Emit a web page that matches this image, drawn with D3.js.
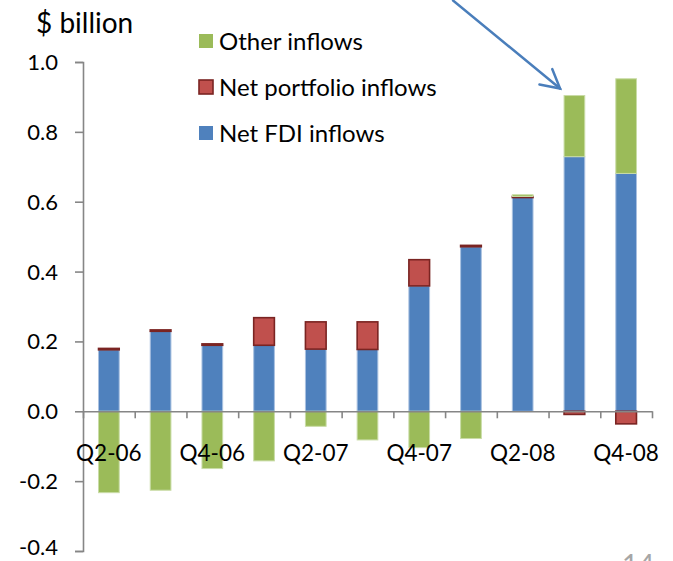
<!DOCTYPE html>
<html>
<head>
<meta charset="utf-8">
<title>Capital inflows</title>
<script src="https://d3js.org/d3.v7.min.js"></script>
<style>
html, body {
	margin: 0;
	padding: 0;
	background: #fff;
}
svg text {
	font-family: Lato, "Open Sans", sans-serif;
	fill: #000;
}
</style>
</head>
<body>
<div id="chart"></div>
<script>
	// data, $ billion
	var quarters = ["Q2-06", "Q3-06", "Q4-06", "Q1-07", "Q2-07", "Q3-07", "Q4-07", "Q1-08", "Q2-08", "Q3-08", "Q4-08"];
	var fdi       = [0.176, 0.229, 0.189, 0.189, 0.178, 0.177, 0.359, 0.471, 0.612, 0.729, 0.681];
	var portfolio = [0.004, 0.004, 0.004, 0.079, 0.078, 0.079, 0.075, 0.004, 0.003, -0.009, -0.036];
	var other     = [-0.233, -0.226, -0.164, -0.142, -0.043, -0.082, -0.104, -0.078, 0.005, 0.175, 0.271];
	var yTicks = [-0.4, -0.2, 0, 0.2, 0.4, 0.6, 0.8, 1.0];
	var xLabels = ["Q2-06", "Q4-06", "Q2-07", "Q4-07", "Q2-08", "Q4-08"];
	var seriesNames = ["Net FDI inflows", "Net portfolio inflows", "Other inflows"];
	var legendOrder = ["Other inflows", "Net portfolio inflows", "Net FDI inflows"];

	var width = 673, height = 561;
	var colors = {"Net FDI inflows": "#4f81bd", "Net portfolio inflows": "#c0504d", "Other inflows": "#9bbb59"};
	var strokes = {"Net FDI inflows": "#a9c1e0", "Net portfolio inflows": "#7a2422", "Other inflows": "#c9dca6"};

	var table = quarters.map((q, i) => ({
		q: q,
		"Net FDI inflows": fdi[i],
		"Net portfolio inflows": portfolio[i],
		"Other inflows": other[i]
	}));

	var stack = d3.stack().keys(seriesNames).offset(d3.stackOffsetDiverging);
	var layers = stack(table);

	var x = d3.scaleBand().domain(quarters).range([83, 652]).paddingInner(0.6).paddingOuter(0.3);
	var y = d3.scaleLinear().domain([-0.4, 1.0]).range([551, 62]);
	var xEdge = d3.scaleLinear().domain([0, quarters.length]).range([83, 652]);

	var svg = d3.select("#chart").append("svg")
		.attr("width", width)
		.attr("height", height);

	// bars
	svg.append("g")
	  .selectAll("g")
	  .data(layers)
	  .join("g")
		.attr("fill", d => colors[d.key])
		.attr("stroke", d => strokes[d.key])
		.attr("stroke-width", d => d.key == "Net portfolio inflows" ? 1.6 : 1)
	  .selectAll("rect")
	  .data(d => d)
	  .join("rect")
		.attr("x", d => x(d.data.q))
		.attr("width", x.bandwidth())
		.attr("y", d => y(Math.max(d[0], d[1])))
		.attr("height", d => Math.abs(y(d[0]) - y(d[1])));

	// y axis
	var yAxis = svg.append("g")
		.attr("transform", "translate(83,0)")
		.call(d3.axisLeft(y).tickValues(yTicks).tickFormat(d => d.toFixed(1)).tickSize(8).tickPadding(17));
	// lowest label sits on the window edge, lift it a touch so it is not clipped
	yAxis.selectAll("text")
		.attr("font-size", 22)
		.attr("dy", d => d == yTicks[0] ? "0.18em" : "0.34em");

	// x axis at zero
	var xAxis = svg.append("g")
		.attr("transform", `translate(0,${y(0)})`)
		.call(d3.axisBottom(xEdge).tickValues(d3.range(quarters.length + 1)).tickFormat("").tickSize(7).tickSizeOuter(0));

	svg.selectAll(".domain, .tick line")
		.attr("stroke", "#868686")
		.attr("stroke-width", 1.6);

	svg.append("g")
	  .selectAll("text")
	  .data(xLabels)
	  .join("text")
		.attr("x", d => x(d) + x.bandwidth() / 2)
		.attr("y", y(0) + 50)
		.attr("text-anchor", "middle")
		.attr("font-size", 22.5)
		.text(d => d);

	// unit label
	svg.append("text")
		.attr("x", 36)
		.attr("y", 33)
		.attr("font-size", 28)
		.text("$ billion");

	// legend
	var legend = svg.append("g")
	  .selectAll("g")
	  .data(legendOrder)
	  .join("g")
		.attr("transform", (d, i) => `translate(199,${41 + i * 46})`);
	legend.append("rect")
		.attr("x", 0)
		.attr("y", -7)
		.attr("width", 14)
		.attr("height", 14)
		.attr("fill", d => colors[d])
		.attr("stroke", d => d == "Net portfolio inflows" ? strokes[d] : "none")
		.attr("stroke-width", 1.6);
	legend.append("text")
		.attr("x", 20)
		.attr("dy", "0.36em")
		.attr("font-size", 24)
		.text(d => d);

	// arrow pointing at Q3-08 bar
	var target = quarters.indexOf("Q3-08");
	var tipX = x("Q3-08") - 4;
	var tipY = y(fdi[target] + other[target]) - 7;
	var startX = tipX - 107, startY = tipY - 88;
	var ang = Math.atan2(tipY - startY, tipX - startX);
	var arm = 21;
	var arrow = svg.append("g")
		.attr("stroke", "#4a7ebb")
		.attr("stroke-width", 2.5)
		.attr("fill", "none")
		.attr("stroke-linecap", "round");
	arrow.append("line")
		.attr("x1", startX).attr("y1", startY)
		.attr("x2", tipX).attr("y2", tipY);
	arrow.append("path")
		.attr("d", d3.line()([
			[tipX - arm * Math.cos(ang - 0.5), tipY - arm * Math.sin(ang - 0.5)],
			[tipX, tipY],
			[tipX - arm * Math.cos(ang + 0.5), tipY - arm * Math.sin(ang + 0.5)]
		]));

	// page number, cut off at the bottom as in the slide
	svg.append("text")
		.attr("x", 622)
		.attr("y", 575)
		.attr("font-size", 28)
		.style("fill", "#a6a6a6")
		.text("14");
</script>
</body>
</html>
